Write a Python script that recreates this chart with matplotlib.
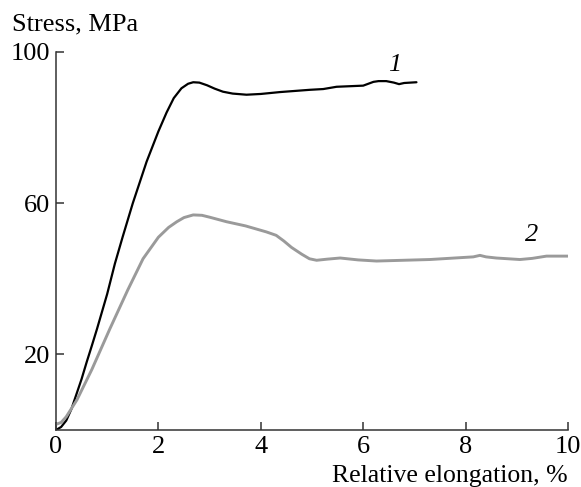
import matplotlib
matplotlib.use("Agg")
import matplotlib.pyplot as plt

plt.rcParams['font.family'] = ['Liberation Serif', 'DejaVu Serif']

# Curve 1 (black)
x1 = [0, 0.1, 0.2, 0.3, 0.41, 0.5, 0.6, 0.7, 0.8, 1.0, 1.15, 1.3, 1.5, 1.77, 2.0,
      2.16, 2.3, 2.45, 2.58, 2.68, 2.8, 2.95, 3.1, 3.26, 3.45, 3.72, 4.0, 4.375,
      4.96, 5.22, 5.48, 6.0, 6.1, 6.2, 6.3, 6.45, 6.6, 6.7, 6.8, 7.04]
y1 = [0, 0.8, 2.5, 5.5, 9.9, 13.5, 18, 22.3, 26.7, 36, 44, 51, 60, 71, 79,
      84, 87.8, 90.4, 91.6, 92, 91.9, 91.2, 90.3, 89.5, 89, 88.7, 88.9, 89.4,
      90, 90.2, 90.8, 91.1, 91.6, 92.1, 92.3, 92.3, 91.9, 91.5, 91.8, 92]

# Curve 2 (gray)
x2 = [0, 0.1, 0.2, 0.41, 0.7, 1.05, 1.4, 1.7, 2.0, 2.2, 2.36, 2.5, 2.68, 2.85, 3.0,
      3.33, 3.7, 4.11, 4.3, 4.45, 4.6, 4.8, 4.95, 5.09, 5.3, 5.55, 5.9, 6.26, 7.3,
      8.15, 8.28, 8.4, 8.6, 9.06, 9.3, 9.58, 10]
y2 = [1.5, 2, 3.5, 8, 16, 26.7, 37, 45.3, 51, 53.6, 55.1, 56.2, 56.9, 56.8, 56.3,
      55.1, 54, 52.4, 51.5, 50, 48.3, 46.5, 45.3, 44.9, 45.2, 45.5, 45.0, 44.7, 45.1,
      45.8, 46.2, 45.8, 45.5, 45.1, 45.4, 46, 46]

xticks = [0, 2, 4, 6, 8, 10]
yticks = [20, 60, 100]

fig = plt.figure(figsize=(5.81, 4.87), dpi=100)
ax = fig.add_axes([56/581, 1 - 430/487, (568-56)/581, (430-52)/487])

ax.plot(x1, y1, color='black', lw=1.6, solid_capstyle='round', solid_joinstyle='round')
ax.plot(x2, y2, color='#9a9a9a', lw=2.1, solid_capstyle='round', solid_joinstyle='round')

ax.set_xlim(0, 10)
ax.set_ylim(0, 100)
ax.set_xticks(xticks)
ax.set_yticks(yticks)
ax.spines['top'].set_visible(False)
ax.spines['right'].set_visible(False)
for s in ['left', 'bottom']:
    ax.spines[s].set_linewidth(1.1)
    ax.spines[s].set_color('#333333')
ax.tick_params(direction='in', length=6, width=1.1, color='#333333',
               labelsize=19, pad=4)
ax.set_xticklabels([str(t) for t in xticks])
ax.set_yticklabels([str(t) for t in yticks])

fig.text(12/581, 1 - 24/487, 'Stress, MPa', fontsize=19, ha='left', va='center')
fig.text(568/581, 1 - 476/487, 'Relative elongation, %', fontsize=18.5,
         ha='right', va='center')

ax.text(6.62, 96.5, '1', fontsize=19, style='italic', ha='center', va='center')
ax.text(9.29, 51.5, '2', fontsize=19, style='italic', ha='center', va='center')

fig.savefig('out.png', dpi=100)
